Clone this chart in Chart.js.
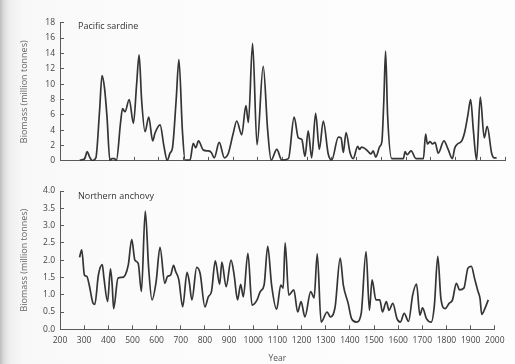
<!DOCTYPE html>
<html>
<head>
<meta charset="utf-8">
<script src="https://cdn.jsdelivr.net/npm/chart.js@4"></script>
<style>
  html, body { margin: 0; padding: 0; }
  body {
    width: 515px; height: 364px; position: relative; overflow: hidden;
    background: linear-gradient(to right, #bdbdbd 0px, #dcdcdc 4px, #efefef 10px, #f8f8f8 24px, #fbfbfb 120px, #fdfdfd 100%);
  }
  #c1 { position: absolute; left: 0; top: 0; }
  #c2 { position: absolute; left: 0; top: 175px; }
</style>
</head>
<body>
<canvas id="c1" width="515" height="175"></canvas>
<canvas id="c2" width="515" height="189"></canvas>
<script>
// ---- data ----
const sardineYears = [280, 300, 310, 320, 330, 345, 360, 370, 380, 390, 402, 410, 420, 428, 445, 453, 463, 480, 497, 510, 520, 530, 544, 559, 575, 584, 605, 620, 634, 645, 655, 670, 681, 695, 706, 726, 739, 749, 760, 780, 800, 812, 824, 844, 865, 881, 900, 915, 935, 952, 962, 979, 997, 1022, 1040, 1054, 1077, 1097, 1124, 1147, 1164, 1178, 1191, 1204, 1218, 1234, 1249, 1265, 1285, 1299, 1326, 1337, 1346, 1357, 1373, 1386, 1404, 1411, 1420, 1434, 1447, 1458, 1467, 1477, 1494, 1502, 1510, 1517, 1525, 1542, 1589, 1596, 1604, 1620, 1640, 1670, 1679, 1686, 1697, 1707, 1717, 1730, 1753, 1770, 1787, 1797, 1808, 1825, 1838, 1850, 1861, 1872, 1885, 1900, 1916, 1928, 1946, 1957, 1966];
const sardineBiomass = [0.1, 0.3, 1.2, 0.5, 0.05, 0.4, 6.5, 11.1, 9.5, 5.8, 0.05, 0.3, 0.3, 0.05, 5.0, 6.8, 6.4, 8.0, 4.9, 10.0, 13.8, 8.0, 3.8, 5.7, 2.6, 3.6, 4.7, 2.0, 0.05, 1.0, 1.7, 8.0, 13.2, 4.0, 0.1, 0.1, 2.3, 1.7, 2.6, 1.4, 1.3, 1.1, 0.4, 2.4, 0.4, 1.0, 3.5, 5.2, 3.4, 7.2, 5.0, 15.3, 2.1, 12.3, 4.0, 0.1, 1.5, 0.1, 0.3, 5.7, 3.0, 2.8, 0.6, 3.9, 0.4, 6.2, 1.5, 5.2, 0.9, 0.1, 3.1, 3.0, 1.1, 3.7, 1.1, 0.3, 1.9, 1.5, 1.8, 1.6, 1.2, 0.9, 1.3, 0.5, 1.9, 2.5, 8.0, 14.3, 6.0, 0.3, 0.3, 1.2, 0.8, 1.3, 0.3, 0.3, 3.5, 2.2, 2.5, 2.2, 2.4, 1.0, 2.6, 1.5, 0.3, 1.7, 2.2, 2.6, 3.9, 6.0, 8.0, 4.0, 0.1, 8.3, 3.0, 4.5, 1.0, 0.4, 0.4];

const anchovyYears = [281, 290, 301, 311, 321, 337, 344, 359, 375, 382, 397, 409, 416, 422, 440, 456, 470, 483, 497, 510, 524, 537, 553, 567, 581, 598, 614, 634, 645, 658, 670, 679, 692, 708, 726, 735, 746, 766, 780, 800, 814, 827, 843, 861, 870, 888, 908, 921, 935, 948, 959, 978, 995, 1016, 1029, 1045, 1060, 1076, 1097, 1114, 1124, 1132, 1147, 1168, 1184, 1198, 1214, 1238, 1252, 1265, 1281, 1306, 1319, 1339, 1360, 1373, 1393, 1407, 1427, 1447, 1467, 1481, 1492, 1508, 1524, 1535, 1551, 1562, 1578, 1595, 1609, 1625, 1643, 1660, 1676, 1690, 1701, 1717, 1737, 1750, 1764, 1777, 1795, 1811, 1825, 1841, 1854, 1872, 1889, 1903, 1916, 1930, 1939, 1946, 1959, 1973];
const anchovyBiomass = [2.08, 2.3, 1.57, 1.53, 1.28, 0.75, 0.72, 1.57, 1.87, 1.48, 0.8, 1.75, 1.28, 0.6, 1.48, 1.5, 1.57, 1.87, 2.6, 2.0, 1.9, 1.09, 3.42, 1.77, 0.85, 1.38, 2.37, 1.33, 1.53, 1.57, 1.85, 1.67, 1.43, 0.65, 1.65, 1.38, 0.85, 1.79, 1.62, 0.65, 0.94, 1.09, 1.98, 1.3, 1.94, 1.23, 2.0, 1.57, 0.85, 1.3, 0.94, 2.2, 0.7, 0.85, 1.09, 1.28, 2.4, 1.28, 0.58, 1.28, 1.19, 2.5, 0.99, 1.14, 0.5, 0.8, 0.36, 1.09, 0.91, 2.18, 0.21, 0.5, 0.36, 0.65, 2.06, 1.28, 0.75, 0.31, 0.21, 0.46, 2.25, 0.55, 1.43, 0.85, 0.85, 0.5, 0.8, 0.55, 0.75, 0.31, 0.21, 0.46, 0.23, 0.99, 1.31, 0.41, 0.62, 0.31, 0.21, 0.7, 2.11, 0.89, 0.6, 0.75, 0.85, 1.33, 1.14, 1.19, 1.77, 1.82, 1.48, 1.11, 0.89, 0.43, 0.6, 0.85];

const yearTickStep = 100;
const yearMin = 200, yearMax = 2000;
const sardineAxis = { min: 0, max: 18, step: 2 };
const anchovyAxis = { min: 0, max: 4.0, step: 0.5 };
const sardineLabel = 'Pacific sardine';
const anchovyLabel = 'Northern anchovy';
const yTitle = 'Biomass (million tonnes)';
const xTitle = 'Year';

// ---- styling ----
const FONT = "'Open Sans', 'Noto Sans', sans-serif";
const LINE = '#353535';
const AXIS = '#5a5a5a';
const TICKTXT = '#444';

const panelLabel = {
  id: 'panelLabel',
  afterDraw(chart, args, opts) {
    const { ctx, chartArea } = chart;
    ctx.save();
    ctx.font = "9px " + FONT;
    ctx.fillStyle = '#333';
    ctx.textAlign = 'left';
    ctx.textBaseline = 'alphabetic';
    ctx.fillText(opts.text, chartArea.left + opts.dx, chartArea.top + opts.dy);
    ctx.restore();
  }
};

function toPoints(xs, ys) { return xs.map((x, i) => ({ x: x, y: ys[i] })); }

function makeChart(canvasId, xs, ys, axis, label, showX, pad, xAxisH, labelDy, yFmt) {
  return new Chart(document.getElementById(canvasId), {
    type: 'line',
    data: {
      datasets: [{
        data: toPoints(xs, ys),
        borderColor: LINE,
        borderWidth: 1.7,
        pointRadius: 0,
        fill: false,
        cubicInterpolationMode: 'monotone'
      }]
    },
    options: {
      responsive: false,
      animation: false,
      events: [],
      layout: { padding: pad },
      plugins: {
        legend: { display: false },
        tooltip: { enabled: false },
        panelLabel: { text: label, dx: 18, dy: labelDy }
      },
      scales: {
        x: {
          type: 'linear',
          min: yearMin, max: yearMax,
          border: { color: AXIS, width: 1 },
          grid: { drawOnChartArea: false, tickLength: -4, color: AXIS, lineWidth: 1 },
          ticks: {
            display: showX,
            stepSize: yearTickStep,
            autoSkip: false,
            maxRotation: 0,
            padding: 10.5,
            color: TICKTXT,
            font: { family: FONT, size: 8.5 },
            callback: v => String(v)
          },
          title: {
            display: showX,
            text: xTitle,
            color: '#555',
            font: { family: FONT, size: 8.5 },
            padding: { top: 0, bottom: 0 }
          },
          afterFit(scale) { scale.height = xAxisH; }
        },
        y: {
          min: axis.min, max: axis.max,
          border: { color: AXIS, width: 1 },
          grid: { drawOnChartArea: false, tickLength: -4, color: AXIS, lineWidth: 1 },
          ticks: {
            stepSize: axis.step,
            autoSkip: false,
            padding: 9,
            color: TICKTXT,
            font: { family: FONT, size: 8.5 },
            callback: yFmt
          },
          title: {
            display: true,
            text: yTitle,
            color: '#666',
            font: { family: FONT, size: 9 },
            padding: { top: 19, bottom: 0 }
          },
          afterFit(scale) { scale.width = 60; }
        }
      }
    },
    plugins: [panelLabel]
  });
}

makeChart('c1', sardineYears, sardineBiomass, sardineAxis, sardineLabel, false,
  { top: 22.7, right: 10, bottom: 0, left: 0 }, 9, 5.8, v => String(v));
makeChart('c2', anchovyYears, anchovyBiomass, anchovyAxis, anchovyLabel, true,
  { top: 16, right: 0, bottom: 0, left: 0 }, 34.7, 7.5, v => Number(v).toFixed(1));
</script>
</body>
</html>
